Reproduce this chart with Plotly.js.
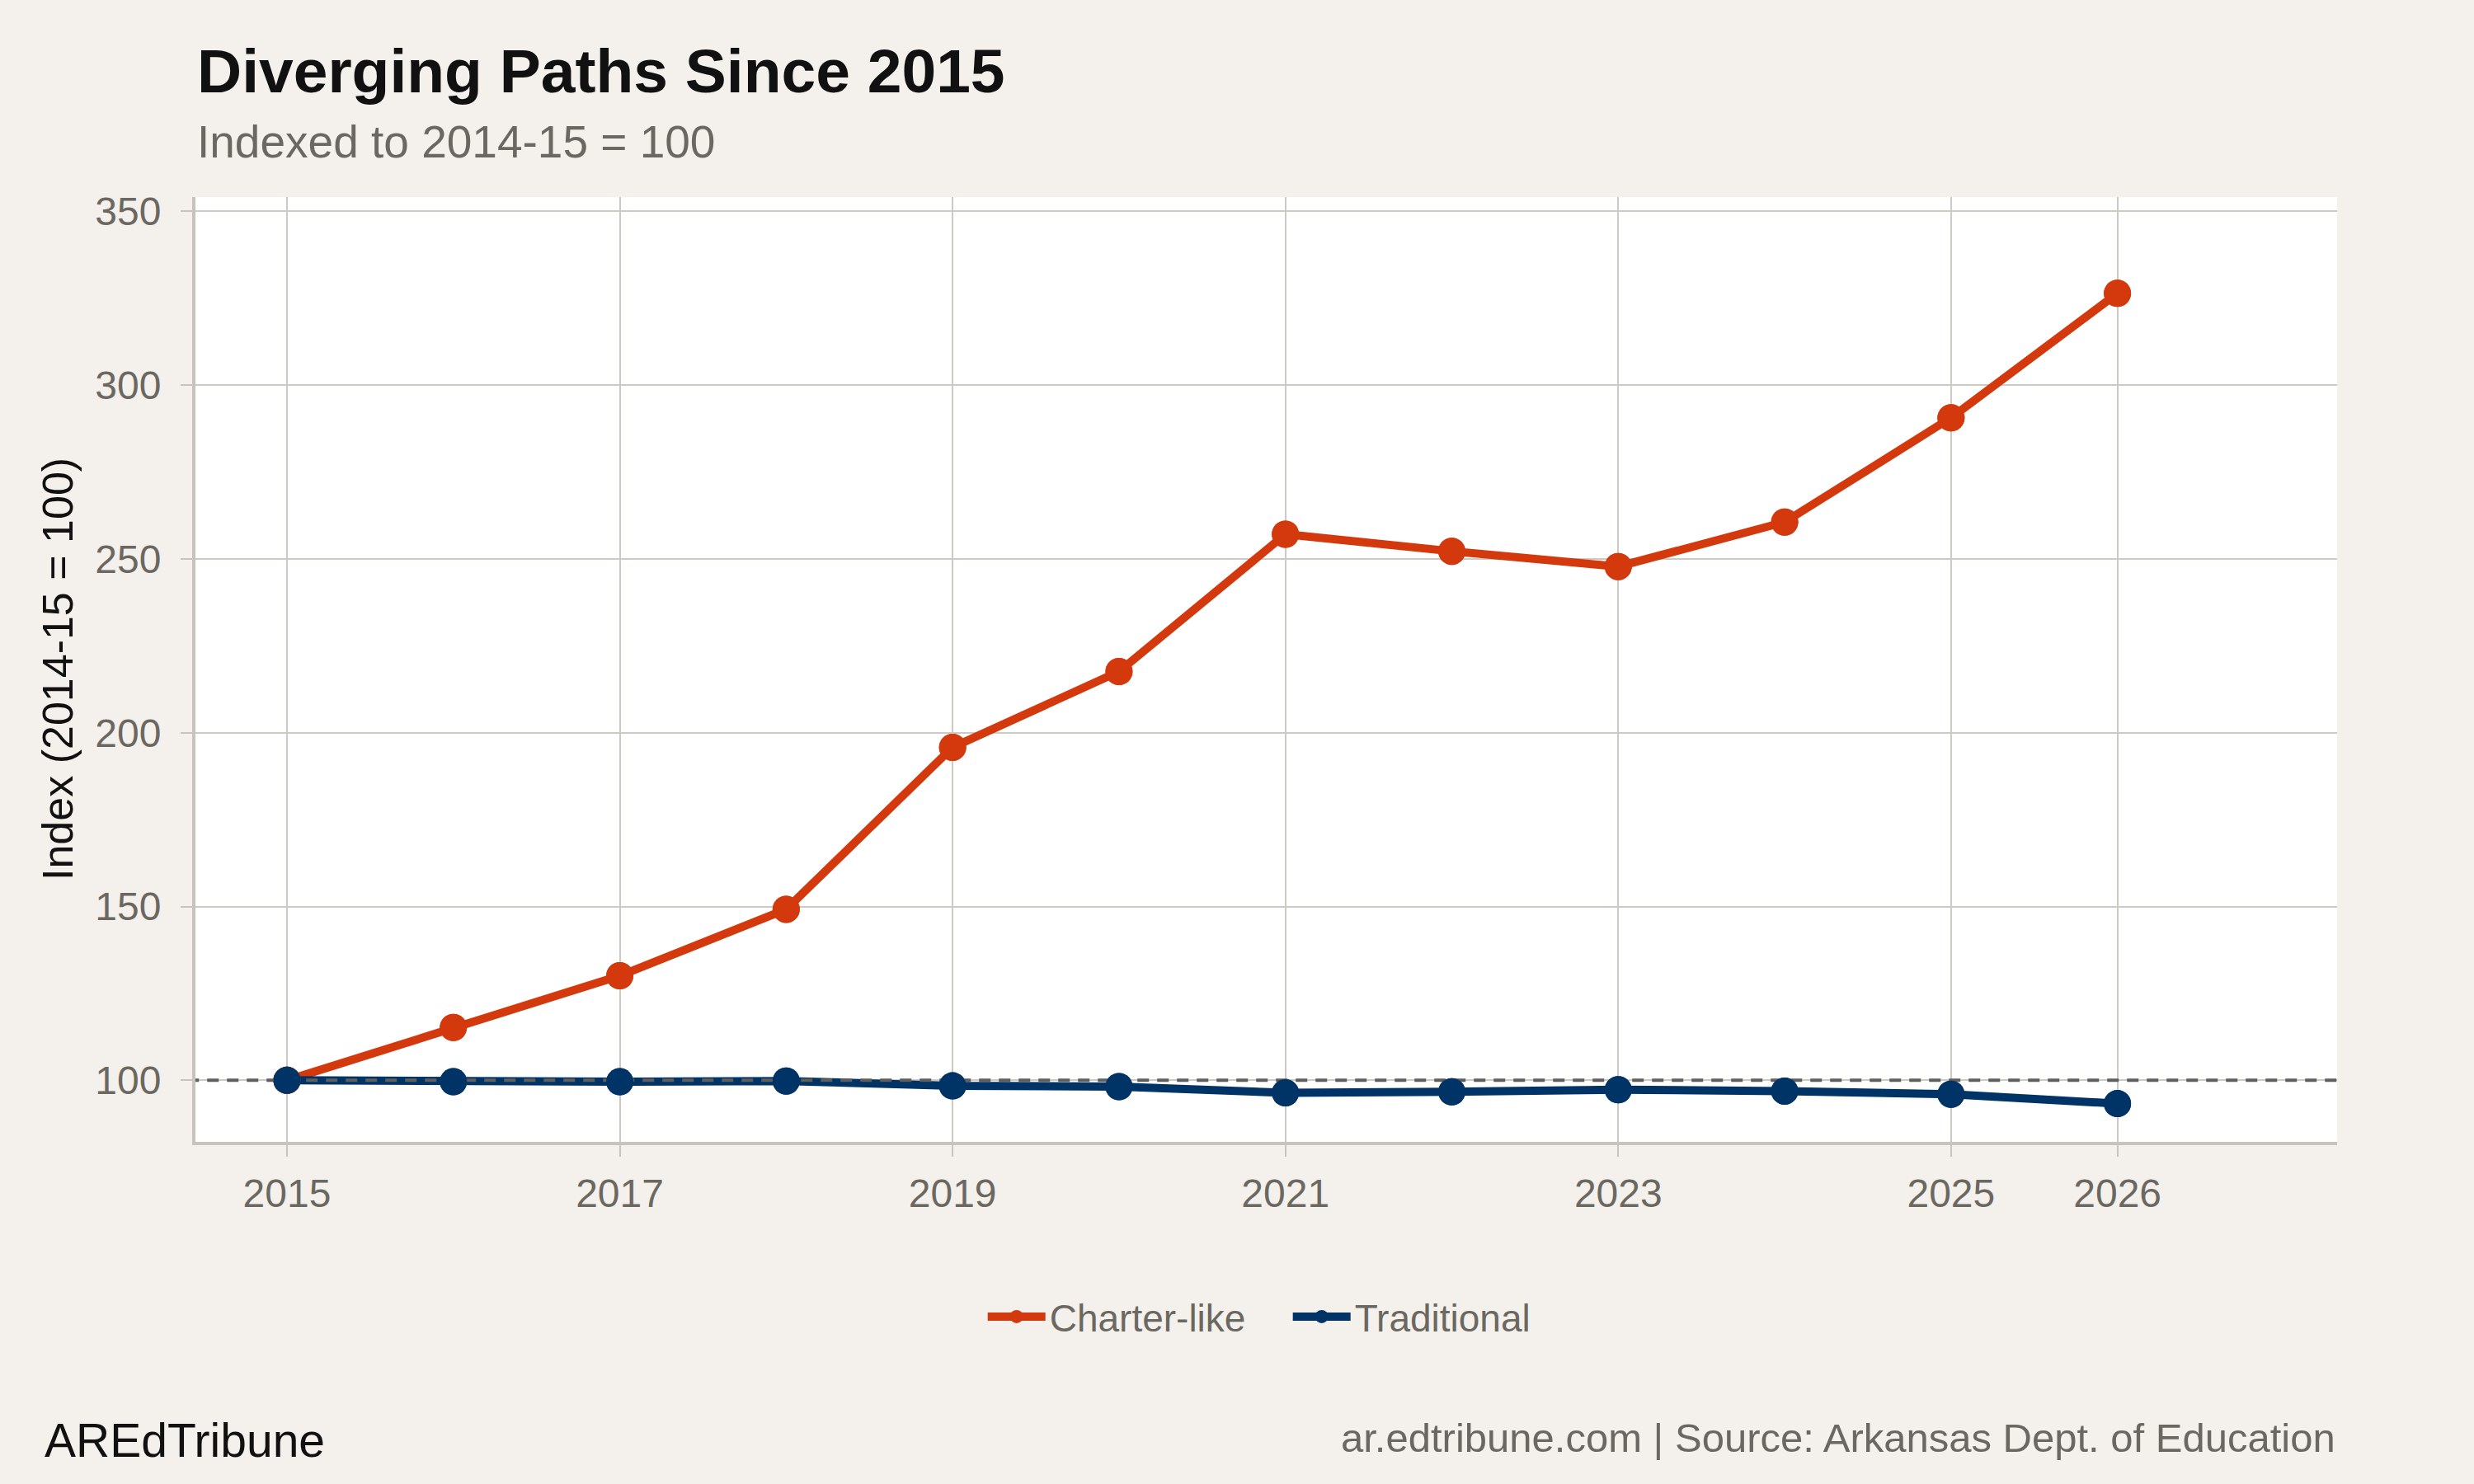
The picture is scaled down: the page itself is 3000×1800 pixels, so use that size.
<!DOCTYPE html>
<html>
<head>
<meta charset="utf-8">
<script src="https://cdn.plot.ly/plotly-3.0.1.min.js"></script>
<style>
  html, body { margin: 0; padding: 0; background: #f4f1ec; }
  #chart { width: 3000px; height: 1800px; }
</style>
</head>
<body>
<div id="chart"></div>
<script>
// Dados
const years = [2015, 2016, 2017, 2018, 2019, 2020, 2021, 2022, 2023, 2024, 2025, 2026];
const charterLike = [100, 115.2, 130.1, 149.2, 195.8, 217.6, 257.1, 252.2, 247.8, 260.6, 290.6, 326.4];
const traditional = [100, 99.6, 99.6, 99.8, 98.4, 98.2, 96.4, 96.7, 97.3, 96.9, 96.0, 93.3];
const xTicks = [2015, 2017, 2019, 2021, 2023, 2025, 2026];
const yTicks = [100, 150, 200, 250, 300, 350];
const baseline = 100;

const red = '#d4380d';
const navy = '#003366';
const grey = '#6b6862';
const font = 'Liberation Sans, Arial, Helvetica, sans-serif';

const xRange = [2014.45, 2027.32];

// linhas com marcadores (legenda)
var traceCharter = {
    type: 'scatter',
    mode: 'lines+markers',
    name: 'Charter-like',
    x: years,
    y: charterLike,
    line: { color: red, width: 10 },
    marker: { color: red, size: 33 }
};

var traceTrad = {
    type: 'scatter',
    mode: 'lines+markers',
    name: 'Traditional',
    x: years,
    y: traditional,
    line: { color: navy, width: 10 },
    marker: { color: navy, size: 33 }
};

// linha tracejada de referencia em 100
var traceBase = {
    type: 'scatter',
    mode: 'lines',
    x: [xRange[0] - 1, xRange[1] + 1],
    y: [baseline, baseline],
    line: { color: '#5e5e5e', width: 4, dash: '14px,10px' },
    showlegend: false,
    hoverinfo: 'skip'
};

// marcadores por cima da linha tracejada
var dotsCharter = {
    type: 'scatter', mode: 'markers', x: years, y: charterLike,
    marker: { color: red, size: 33 }, showlegend: false, hoverinfo: 'skip'
};
var dotsTrad = {
    type: 'scatter', mode: 'markers', x: years, y: traditional,
    marker: { color: navy, size: 33 }, showlegend: false, hoverinfo: 'skip'
};

var data = [traceCharter, traceTrad, traceBase, dotsCharter, dotsTrad];

var layout = {
    width: 3000,
    height: 1800,
    paper_bgcolor: '#f4f1ec',
    plot_bgcolor: '#ffffff',
    margin: { l: 237, r: 166, t: 239, b: 415 },
    font: { family: font, color: grey, size: 48 },
    showlegend: true,
    legend: {
        orientation: 'h',
        x: 0.368,
        xanchor: 'left',
        y: -0.185,
        yanchor: 'middle',
        font: { family: font, size: 46, color: grey },
        itemwidth: 70,
        entrywidthmode: 'pixels',
        entrywidth: 285,
        bgcolor: 'rgba(0,0,0,0)'
    },
    xaxis: {
        range: xRange,
        tickmode: 'array',
        tickvals: xTicks,
        ticktext: xTicks.map(String),
        showgrid: true,
        gridcolor: '#cfcac1',
        gridwidth: 2,
        zeroline: false,
        showline: true,
        linecolor: '#c9c4bb',
        linewidth: 4,
        ticks: 'outside',
        ticklen: 14,
        tickwidth: 2,
        tickcolor: '#c9c4bb',
        ticklabelstandoff: 3,
        tickfont: { family: font, size: 48, color: grey }
    },
    yaxis: {
        range: [82.3, 354.1],
        tickmode: 'array',
        tickvals: yTicks,
        showgrid: true,
        gridcolor: '#cfcac1',
        gridwidth: 2,
        zeroline: false,
        showline: true,
        linecolor: '#c9c4bb',
        linewidth: 4,
        ticks: 'outside',
        ticklen: 14,
        tickwidth: 2,
        tickcolor: '#c9c4bb',
        ticklabelstandoff: 14,
        tickfont: { family: font, size: 48, color: grey }
    },
    annotations: [
        {
            text: '<b>Diverging Paths Since 2015</b>',
            xref: 'paper', yref: 'paper',
            x: 0, y: 1.1335, xanchor: 'left', yanchor: 'middle',
            showarrow: false,
            font: { family: font, size: 75, color: '#111111' }
        },
        {
            text: 'Indexed to 2014-15 = 100',
            xref: 'paper', yref: 'paper',
            x: 0, y: 1.0585, xanchor: 'left', yanchor: 'middle',
            showarrow: false,
            font: { family: font, size: 55, color: grey }
        },
        {
            text: 'Index (2014-15 = 100)',
            xref: 'paper', yref: 'paper',
            x: -0.0643, y: 0.5, xanchor: 'center', yanchor: 'middle',
            textangle: -90,
            showarrow: false,
            font: { family: font, size: 52, color: '#111111' }
        },
        {
            text: 'AREdTribune',
            xref: 'paper', yref: 'paper',
            x: -0.0712, y: -0.316, xanchor: 'left', yanchor: 'middle',
            showarrow: false,
            font: { family: font, size: 57, color: '#111111' }
        },
        {
            text: 'ar.edtribune.com | Source: Arkansas Dept. of Education',
            xref: 'paper', yref: 'paper',
            x: 1, y: -0.313, xanchor: 'right', yanchor: 'middle',
            showarrow: false,
            font: { family: font, size: 49, color: grey }
        }
    ]
};

Plotly.newPlot('chart', data, layout, { displayModeBar: false, staticPlot: true });
</script>
</body>
</html>
